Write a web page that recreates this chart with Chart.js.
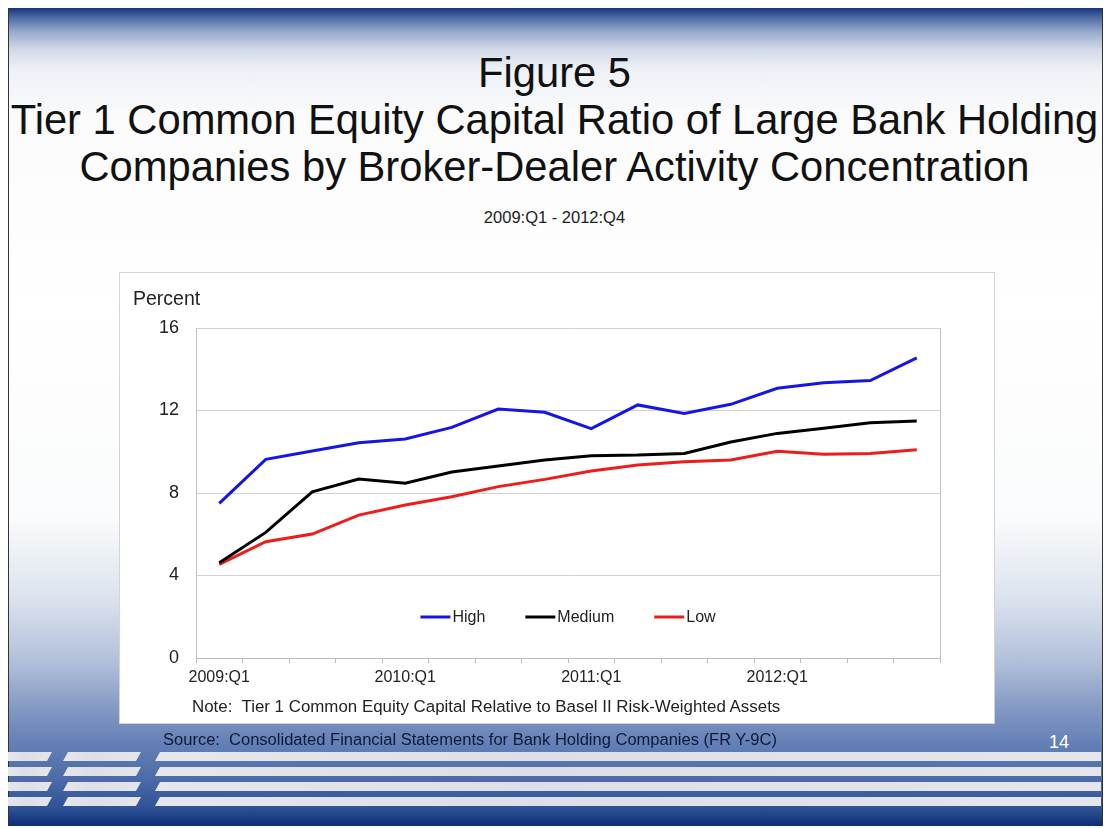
<!DOCTYPE html>
<html>
<head>
<meta charset="utf-8">
<script src="https://cdn.jsdelivr.net/npm/chart.js"></script>
<style>
  html, body { margin: 0; padding: 0; background: #fff; }
  body { width: 1109px; height: 828px; position: relative; overflow: hidden; font-family: "Liberation Sans", Arial, sans-serif; }
  #slide {
    position: absolute; left: 8px; top: 8px; width: 1093px; height: 818px;
    border-left: 1px solid #333; border-right: 1px solid #333;
    background: linear-gradient(180deg, #15357a 0px, #4f6ca4 10px, #98abcc 24px, #d3dae8 42px, #eef1f6 62px, #fbfbfc 110px, #ffffff 300px, #fafbfc 510px, #dce3ee 590px, #b0bfd9 655px, #8499c4 700px, #6480b6 735px, #4d6ca8 770px, #2f5296 800px, #0c2d75 818px);
  }
  .stripe { position: absolute; height: 9px; background: linear-gradient(90deg, #e6e7ec, #dcdfe7 40%, #e4e6eb); }
  .t { position: absolute; white-space: nowrap; }
  #title { left: 0; width: 1109px; top: 49px; text-align: center; font-size: 41.7px; line-height: 47px; color: #111; }
  #sub { left: 0; width: 1109px; top: 207px; text-align: center; font-size: 16.5px; line-height: 20px; color: #222; }
  #box { position: absolute; left: 120px; top: 273px; width: 874px; height: 450px; background: #fff; box-shadow: 0 0 0 1px #d4d4d4; }
  #box canvas { position: absolute; left: 0; top: 0; }
  #percent { left: 13px; top: 15px; font-size: 19.5px; line-height: 20px; color: #222; }
  #note { left: 72px; top: 424px; font-size: 16.9px; line-height: 20px; color: #222; }
  #source { left: 163px; top: 730px; font-family: "Liberation Sans Narrow", "Liberation Sans", sans-serif; font-size: 16px; line-height: 20px; color: #0d1a3a; transform-origin: 0 50%; }
  #page { left: 1049px; top: 731px; font-size: 18px; line-height: 22px; color: #fff; }
</style>
</head>
<body>
<div id="slide"></div>
<div id="stripes"></div>
<div class="t" id="title">Figure 5<br>Tier 1 Common Equity Capital Ratio of Large Bank Holding<br>Companies by Broker-Dealer Activity Concentration</div>
<div class="t" id="sub">2009:Q1 - 2012:Q4</div>
<div id="box">
  <canvas id="myChart" width="874" height="450"></canvas>
  <div class="t" id="percent">Percent</div>
  <div class="t" id="note">Note:&nbsp; Tier 1 Common Equity Capital Relative to Basel II Risk-Weighted Assets</div>
</div>
<div class="t" id="source">Source:&nbsp; Consolidated Financial Statements for Bank Holding Companies (FR Y-9C)</div>
<div class="t" id="page">14</div>

<script>
 // quarters on the x axis
 const quarters = [
   '2009:Q1', '2009:Q2', '2009:Q3', '2009:Q4',
   '2010:Q1', '2010:Q2', '2010:Q3', '2010:Q4',
   '2011:Q1', '2011:Q2', '2011:Q3', '2011:Q4',
   '2012:Q1', '2012:Q2', '2012:Q3', '2012:Q4'
 ];

 // series values (percent)
 const highValues   = [7.50, 9.63, 10.04, 10.44, 10.62, 11.18, 12.07, 11.91, 11.12, 12.27, 11.86, 12.30, 13.08, 13.35, 13.45, 14.55];
 const mediumValues = [4.62, 6.09, 8.06, 8.68, 8.47, 9.02, 9.31, 9.60, 9.81, 9.84, 9.92, 10.47, 10.89, 11.14, 11.41, 11.49];
 const lowValues    = [4.54, 5.64, 6.01, 6.93, 7.42, 7.82, 8.31, 8.66, 9.07, 9.36, 9.52, 9.60, 10.02, 9.88, 9.92, 10.10];

 const yTicks = [0, 4, 8, 12, 16];

 // footer stripes
 const stripeBox = document.getElementById('stripes');
 for (let i = 0; i < 4; i++) {
   const top = 752 + 15 * i;
   const segs = [[8, 8, 52, 47], [68, 63, 141, 136], [160, 155, 1101, 1101]];
   segs.forEach(function(s) {
     const d = document.createElement('div');
     d.className = 'stripe';
     const left = Math.min(s[0], s[1]);
     const w = Math.max(s[2], s[3]) - left;
     d.style.left = left + 'px';
     d.style.top = top + 'px';
     d.style.width = w + 'px';
     d.style.clipPath = 'polygon(' + (s[0] - left) + 'px 0, ' + (s[2] - left) + 'px 0, ' +
       (s[3] - left) + 'px 100%, ' + (s[1] - left) + 'px 100%)';
     stripeBox.appendChild(d);
   });
 }

 // squeeze the source line to its width on the slide
 const src = document.getElementById('source');
 src.style.transform = 'scaleX(' + (614 / src.offsetWidth) + ')';

 // right edge of the plot frame
 const frameRight = {
   id: 'frameRight',
   beforeDatasetsDraw(chart) {
     const a = chart.chartArea, ctx = chart.ctx;
     ctx.save();
     ctx.strokeStyle = '#bdbdbd';
     ctx.lineWidth = 1;
     ctx.beginPath();
     ctx.moveTo(Math.round(a.right) + 0.5, a.top);
     ctx.lineTo(Math.round(a.right) + 0.5, a.bottom);
     ctx.stroke();
     ctx.restore();
   }
 };

 // legend drawn inside the plot, near the bottom
 const innerLegend = {
   id: 'innerLegend',
   afterDraw(chart) {
     const a = chart.chartArea, ctx = chart.ctx;
     const sets = chart.data.datasets;
     ctx.save();
     ctx.font = '16px "Liberation Sans", Arial, sans-serif';
     ctx.textBaseline = 'middle';
     const lineLen = 30, gap = 2, itemGap = 40;
     let total = 0;
     sets.forEach(function(ds, i) {
       total += lineLen + gap + ctx.measureText(ds.label).width + (i < sets.length - 1 ? itemGap : 0);
     });
     let x = (a.left + a.right) / 2 - total / 2;
     const y = a.bottom - 41;
     sets.forEach(function(ds) {
       ctx.strokeStyle = ds.borderColor;
       ctx.lineWidth = 3;
       ctx.beginPath();
       ctx.moveTo(x, y);
       ctx.lineTo(x + lineLen, y);
       ctx.stroke();
       ctx.fillStyle = '#222';
       ctx.fillText(ds.label, x + lineLen + gap, y + 1);
       x += lineLen + gap + ctx.measureText(ds.label).width + itemGap;
     });
     ctx.restore();
   }
 };

 function createChart() {
   const ctx = document.getElementById('myChart').getContext('2d');
   return new Chart(ctx, {
     type: 'line',
     data: {
       labels: quarters,
       datasets: [
         { label: 'High', data: highValues, borderColor: '#1515e6', borderWidth: 3, pointRadius: 0, tension: 0 },
         { label: 'Medium', data: mediumValues, borderColor: '#000000', borderWidth: 3, pointRadius: 0, tension: 0 },
         { label: 'Low', data: lowValues, borderColor: '#ee1c1c', borderWidth: 3, pointRadius: 0, tension: 0 }
       ]
     },
     options: {
       responsive: false,
       animation: false,
       layout: { padding: { top: 55, right: 54, left: 0, bottom: 0 } },
       plugins: { legend: { display: false }, tooltip: { enabled: false } },
       scales: {
         x: {
           offset: true,
           grid: { offset: true, drawOnChartArea: false, drawTicks: true, tickLength: 5, color: '#bdbdbd' },
           border: { color: '#bdbdbd' },
           ticks: {
             autoSkip: false, maxRotation: 0, padding: 5,
             font: { size: 16, family: '"Liberation Sans", Arial, sans-serif' }, color: '#222',
             callback: function(v, i) { return i % 4 === 0 ? quarters[i] : ''; }
           },
           afterFit: function(s) { s.height = 65; }
         },
         y: {
           min: yTicks[0], max: yTicks[yTicks.length - 1],
           afterBuildTicks: function(s) { s.ticks = yTicks.map(function(v) { return { value: v }; }); },
           grid: { color: '#d2d2d2', drawTicks: false },
           border: { color: '#bdbdbd' },
           ticks: { padding: 17, font: { size: 18, family: '"Liberation Sans", Arial, sans-serif' }, color: '#222' },
           afterFit: function(s) { s.width = 76; }
         }
       }
     },
     plugins: [frameRight, innerLegend]
   });
 }

 let myChart = createChart();
</script>
</body>
</html>
